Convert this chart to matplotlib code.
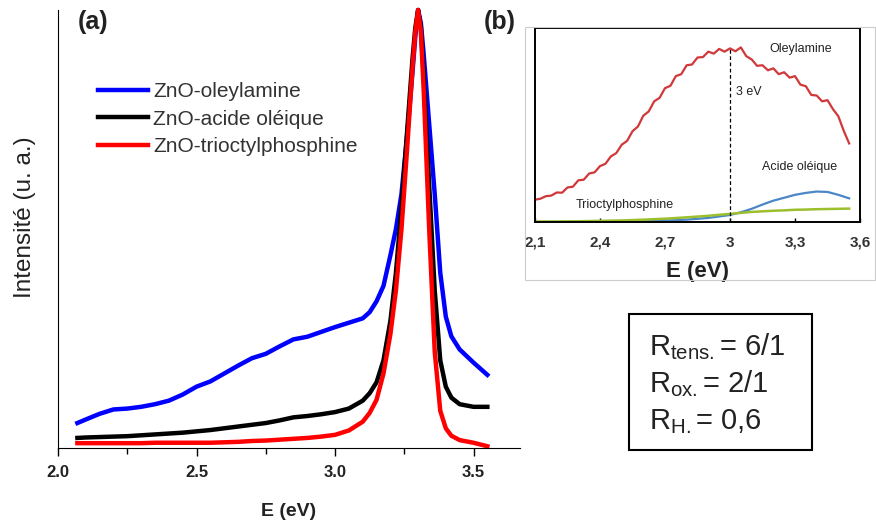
import numpy as np
import matplotlib
matplotlib.use("Agg")
import matplotlib.pyplot as plt
from matplotlib.patches import Rectangle

plt.rcParams['font.family'] = ['Liberation Sans', 'DejaVu Sans']
plt.rcParams['mathtext.default'] = 'regular'

# ---- panel (a) : PL spectra ----
energy = [2.07, 2.10, 2.15, 2.20, 2.25, 2.30, 2.35, 2.40, 2.45, 2.50, 2.55, 2.60,
          2.65, 2.70, 2.75, 2.80, 2.85, 2.90, 2.95, 3.00, 3.05, 3.10, 3.125, 3.15,
          3.175, 3.20, 3.22, 3.24, 3.26, 3.28, 3.29, 3.30, 3.31, 3.32, 3.34, 3.36,
          3.38, 3.40, 3.42, 3.45, 3.50, 3.55]
oleylamine = [0.057, 0.065, 0.078, 0.088, 0.090, 0.094, 0.100, 0.108, 0.122, 0.140,
              0.152, 0.170, 0.188, 0.205, 0.215, 0.232, 0.248, 0.254, 0.265, 0.276,
              0.286, 0.296, 0.310, 0.335, 0.370, 0.440, 0.500, 0.580, 0.710, 0.860,
              0.940, 1.000, 0.970, 0.900, 0.740, 0.580, 0.400, 0.300, 0.255, 0.225,
              0.195, 0.167]
acide_oleique = [0.023, 0.024, 0.025, 0.026, 0.027, 0.029, 0.031, 0.033, 0.035, 0.038,
                 0.041, 0.045, 0.049, 0.053, 0.057, 0.063, 0.070, 0.073, 0.077, 0.082,
                 0.090, 0.108, 0.125, 0.150, 0.200, 0.290, 0.400, 0.550, 0.720, 0.890,
                 0.960, 1.000, 0.960, 0.850, 0.600, 0.360, 0.200, 0.140, 0.115, 0.100,
                 0.094, 0.094]
trioctylphosphine = [0.011, 0.011, 0.011, 0.011, 0.011, 0.011, 0.012, 0.012, 0.012, 0.012,
                     0.012, 0.013, 0.014, 0.016, 0.017, 0.019, 0.021, 0.023, 0.026, 0.030,
                     0.040, 0.060, 0.080, 0.110, 0.170, 0.260, 0.360, 0.500, 0.680, 0.870,
                     0.950, 1.000, 0.950, 0.820, 0.500, 0.220, 0.085, 0.045, 0.028, 0.018,
                     0.012, 0.004]

# ---- panel (b) : inset ----
e_ins = [2.100, 2.125, 2.150, 2.175, 2.200, 2.225, 2.250, 2.275, 2.300, 2.325, 2.350,
         2.375, 2.400, 2.425, 2.450, 2.475, 2.500, 2.525, 2.550, 2.575, 2.600, 2.625,
         2.650, 2.675, 2.700, 2.725, 2.750, 2.775, 2.800, 2.825, 2.850, 2.875, 2.900,
         2.925, 2.950, 2.975, 3.000, 3.025, 3.050, 3.075, 3.100, 3.125, 3.150, 3.175,
         3.200, 3.225, 3.250, 3.275, 3.300, 3.325, 3.350, 3.375, 3.400, 3.425, 3.450,
         3.475, 3.500, 3.525, 3.550]
ins_oleylamine = [0.115, 0.120, 0.133, 0.136, 0.152, 0.151, 0.178, 0.182, 0.215, 0.218,
                  0.250, 0.256, 0.288, 0.300, 0.338, 0.355, 0.398, 0.418, 0.468, 0.492,
                  0.548, 0.570, 0.622, 0.640, 0.690, 0.702, 0.752, 0.762, 0.808, 0.812,
                  0.848, 0.850, 0.878, 0.868, 0.892, 0.878, 0.895, 0.880, 0.900, 0.855,
                  0.838, 0.805, 0.808, 0.782, 0.792, 0.762, 0.772, 0.744, 0.752, 0.708,
                  0.700, 0.655, 0.652, 0.622, 0.628, 0.582, 0.545, 0.470, 0.405]
e_ins2 = [2.10, 2.30, 2.50, 2.60, 2.70, 2.80, 2.90, 3.00, 3.05, 3.10, 3.15, 3.20,
          3.25, 3.30, 3.35, 3.40, 3.45, 3.50, 3.55]
ins_acide = [0.000, 0.000, 0.002, 0.004, 0.007, 0.012, 0.021, 0.036, 0.050, 0.068,
             0.090, 0.110, 0.125, 0.140, 0.150, 0.157, 0.155, 0.140, 0.122]
ins_tops = [0.002, 0.004, 0.008, 0.012, 0.017, 0.024, 0.032, 0.042, 0.047, 0.052,
            0.055, 0.058, 0.060, 0.063, 0.064, 0.066, 0.067, 0.068, 0.069]

W, H = 876, 521
fig = plt.figure(figsize=(W / 100, H / 100), dpi=100)

def box(x0, y0, x1, y1):
    # pixel box (top-left origin) -> figure fraction
    return [x0 / W, 1 - y1 / H, (x1 - x0) / W, (y1 - y0) / H]

ax = fig.add_axes(box(58, 10, 520, 448))
ax.plot(energy, oleylamine, color='#0000ff', lw=3.2, label='ZnO-oleylamine', clip_on=False)
ax.plot(energy, acide_oleique, color='black', lw=3.2, label='ZnO-acide oléique', clip_on=False)
ax.plot(energy, trioctylphosphine, color='#ff0000', lw=3.2, label='ZnO-trioctylphosphine', clip_on=False)
ax.set_xlim(2.0, 2.0 + 462 / 277)
ax.set_ylim(0, 1.0)
ax.spines['top'].set_visible(False)
ax.spines['right'].set_visible(False)
ax.set_yticks([])
ax.set_xticks([2.0, 2.5, 3.0, 3.5])
ax.set_xticks([2.25, 2.75, 3.25], minor=True)
ax.set_xticklabels(['2.0', '2.5', '3.0', '3.5'], fontweight='bold', fontsize=12, color='#222222')
ax.tick_params(axis='x', which='major', direction='out', length=6, width=1.0, pad=6)
ax.tick_params(axis='x', which='minor', direction='out', length=4, width=1.0)
ax.set_xlabel('E (eV)', fontweight='bold', fontsize=14, color='#222222', labelpad=17)
fig.text(25 / W, 1 - 217 / H, 'Intensité (u. a.)', fontsize=17.5, rotation=90,
         ha='center', va='center', color='#222222')
leg = ax.legend(loc='upper left', bbox_to_anchor=(98 / W, 1 - 82 / H),
                bbox_transform=fig.transFigure, frameon=False, fontsize=15,
                handlelength=2.4, handletextpad=0.25, labelspacing=0.42,
                borderpad=0, borderaxespad=0)
for t in leg.get_texts():
    t.set_color('#333333')

fig.text(93 / W, 1 - 22 / H, '(a)', fontsize=18, fontweight='bold', ha='center',
         va='center', color='#222222')
fig.text(500 / W, 1 - 22 / H, '(b)', fontsize=18, fontweight='bold', ha='center',
         va='center', color='#222222')

# light frame around the inset picture
fig.patches.append(Rectangle((525 / W, 1 - 280 / H), 350 / W, 253 / H,
                             transform=fig.transFigure, fill=False,
                             edgecolor='#cccccc', lw=0.8))

axi = fig.add_axes(box(535, 28, 860, 222))
axi.plot(e_ins, ins_oleylamine, color='#d0383a', lw=1.6)
axi.plot(e_ins2, ins_acide, color='#4a86c8', lw=1.6)
axi.plot(e_ins2, ins_tops, color='#9cbf2e', lw=1.8)
axi.plot([3.0, 3.0], [0, 0.895], color='black', lw=0.9, ls=(0, (3, 2)))
axi.set_xlim(2.1, 3.6)
axi.set_ylim(0, 1.0)
axi.set_yticks([])
axi.set_xticks([2.1, 2.4, 2.7, 3.0, 3.3, 3.6])
axi.set_xticklabels(['2,1', '2,4', '2,7', '3', '3,3', '3,6'], fontsize=11,
                    fontweight='bold', color='#333333')
axi.tick_params(axis='x', direction='in', length=3, width=1.0, pad=10)
for s in axi.spines.values():
    s.set_linewidth(1.4)
axi.set_xlabel('E (eV)', fontweight='bold', fontsize=16, color='#222222', labelpad=8)
axi.text(3.18, 0.89, 'Oleylamine', fontsize=9, color='#222222', va='center')
axi.text(3.03, 0.67, '3 eV', fontsize=9, color='#222222', va='center')
axi.text(3.15, 0.285, 'Acide oléique', fontsize=9, color='#222222', va='center')
axi.text(2.29, 0.09, 'Trioctylphosphine', fontsize=9, color='#222222', va='center')

# ratio box
fig.patches.append(Rectangle((629 / W, 1 - 450 / H), 183 / W, 136 / H,
                             transform=fig.transFigure, fill=False,
                             edgecolor='black', lw=1.5))
ratios = ['R$_{tens.}$= 6/1', 'R$_{ox.}$= 2/1', 'R$_{H.}$= 0,6']
for i, r in enumerate(ratios):
    fig.text(649 / W, 1 - (355 + 37 * i) / H, r, fontsize=21, va='baseline',
             ha='left', color='#222222')

fig.savefig('out.png', dpi=100)
